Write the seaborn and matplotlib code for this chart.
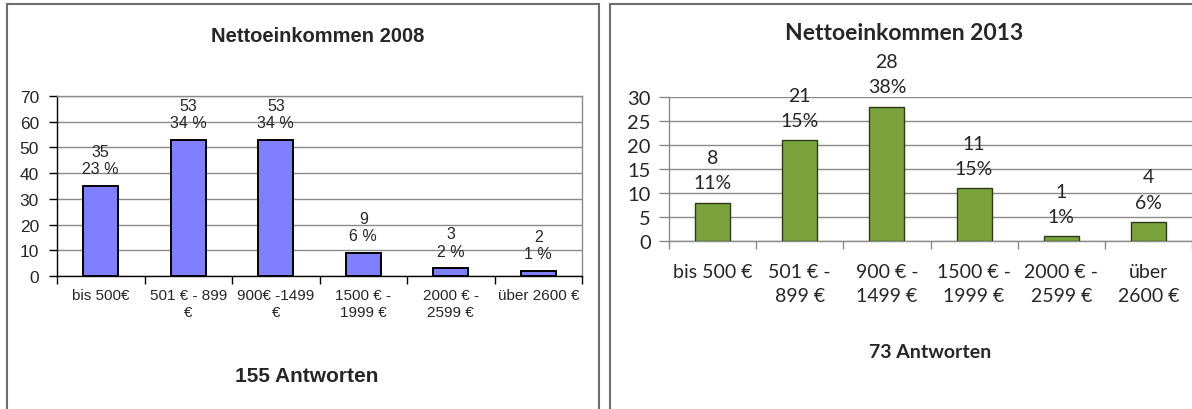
import matplotlib as mpl
mpl.use("Agg")
import matplotlib.pyplot as plt
import seaborn as sns
from matplotlib.patches import Rectangle
from matplotlib.ticker import FixedLocator

sns.set_style("white")
plt.rcParams["font.family"] = ["Liberation Sans", "DejaVu Sans"]

# data
cats_2008 = ["bis 500€", "501 € - 899\n€", "900€ -1499\n€", "1500 € -\n1999 €",
             "2000 € -\n2599 €", "über 2600 €"]
vals_2008 = [35, 53, 53, 9, 3, 2]
pct_2008 = ["23 %", "34 %", "34 %", "6 %", "2 %", "1 %"]

cats_2013 = ["bis 500 €", "501 € -\n899 €", "900 € -\n1499 €", "1500 € -\n1999 €",
             "2000 € -\n2599 €", "über\n2600 €"]
vals_2013 = [8, 21, 28, 11, 1, 4]
pct_2013 = ["11%", "15%", "38%", "15%", "1%", "6%"]

W, H = 1192, 410
fig = plt.figure(figsize=(W / 100, H / 100), dpi=100)


def box(x0, y0, x1, y1):
    # pixel box (top-left origin) -> figure fraction rect
    return [x0 / W, 1 - y1 / H, (x1 - x0) / W, (y1 - y0) / H]


# outer frames of the two pasted charts
fig.patches.append(Rectangle((7 / W, -0.05), (599 - 7) / W, 1 - 5 / H + 0.05,
                             transform=fig.transFigure, fill=False,
                             edgecolor="#6e6e6e", lw=1.5))
fig.patches.append(Rectangle((610 / W, -0.05), 0.5, 1 - 5 / H + 0.05,
                             transform=fig.transFigure, fill=False,
                             edgecolor="#6e6e6e", lw=1.5))

# ---------- 2008 ----------
ax1 = fig.add_axes(box(57, 97, 582, 277))
sns.barplot(x=cats_2008, y=vals_2008, ax=ax1, color="#8080FF", saturation=1,
            edgecolor="black", linewidth=1.4, width=0.4, zorder=3)
ax1.set_ylim(0, 70)
ax1.set_xlim(-0.5, 5.5)
ax1.set_yticks(range(0, 71, 10))
ax1.yaxis.grid(True, color="#8a8a8a", lw=1)
ax1.set_axisbelow(True)
for s in ["top", "right"]:
    ax1.spines[s].set_color("#8a8a8a")
    ax1.spines[s].set_linewidth(1)
for s in ["left", "bottom"]:
    ax1.spines[s].set_color("black")
    ax1.spines[s].set_linewidth(1)
ax1.xaxis.set_minor_locator(FixedLocator([i - 0.5 for i in range(7)]))
ax1.tick_params(axis="x", which="major", length=0, pad=9, labelsize=11)
ax1.tick_params(axis="x", which="minor", length=6, width=1, color="black",
                direction="out", bottom=True)
ax1.tick_params(axis="y", length=6, width=1, color="black", direction="out",
                left=True, pad=7, labelsize=12.5)
for i, (v, p) in enumerate(zip(vals_2008, pct_2008)):
    ax1.annotate(f"{v}\n{p}", xy=(i, v), xytext=(0, 7), textcoords="offset points",
                 ha="center", va="bottom", fontsize=11.5, linespacing=1.2)

fig.text(318 / W, 1 - 36 / H, "Nettoeinkommen 2008", ha="center", va="center",
         fontsize=14.5, fontweight="bold")
fig.text(307 / W, 1 - 377 / H, "155 Antworten", ha="center", va="center",
         fontsize=15, fontweight="bold")

# ---------- 2013 ----------
cal = ["Lato", "DejaVu Sans"]
ax2 = fig.add_axes(box(669, 98, 1192, 242))
sns.barplot(x=cats_2013, y=vals_2013, ax=ax2, color="#7AA33C", saturation=1,
            edgecolor="#2e3a18", linewidth=1.0, width=0.4, zorder=3)
ax2.set_ylim(0, 30)
ax2.set_xlim(-0.5, 5.5)
ax2.set_yticks(range(0, 31, 5))
ax2.yaxis.grid(True, color="#8a8a8a", lw=1)
ax2.set_axisbelow(True)
ax2.spines["top"].set_visible(False)
ax2.spines["right"].set_visible(False)
for s in ["left", "bottom"]:
    ax2.spines[s].set_color("#8a8a8a")
    ax2.spines[s].set_linewidth(1)
ax2.xaxis.set_minor_locator(FixedLocator([i - 0.5 for i in range(7)]))
ax2.tick_params(axis="x", which="major", length=0, pad=16, labelsize=14)
ax2.tick_params(axis="x", which="minor", length=6, width=1, color="#8a8a8a",
                direction="out", bottom=True)
ax2.tick_params(axis="y", length=7, width=1, color="#8a8a8a", direction="out",
                left=True, pad=6, labelsize=14.5)
for lab in ax2.get_xticklabels() + ax2.get_yticklabels():
    lab.set_family(cal)
    lab.set_linespacing(1.5)
for i, (v, p) in enumerate(zip(vals_2013, pct_2013)):
    ax2.annotate(f"{v}\n{p}", xy=(i, v), xytext=(0, 8), textcoords="offset points",
                 ha="center", va="bottom", fontsize=14, linespacing=1.6,
                 family=cal)

fig.text(904 / W, 1 - 33 / H, "Nettoeinkommen 2013", ha="center", va="center",
         fontsize=16.5, fontweight="bold", family=cal)
fig.text(930 / W, 1 - 353 / H, "73 Antworten", ha="center", va="center",
         fontsize=14, fontweight="bold", family=cal)

fig.savefig("out.png", dpi=100)
